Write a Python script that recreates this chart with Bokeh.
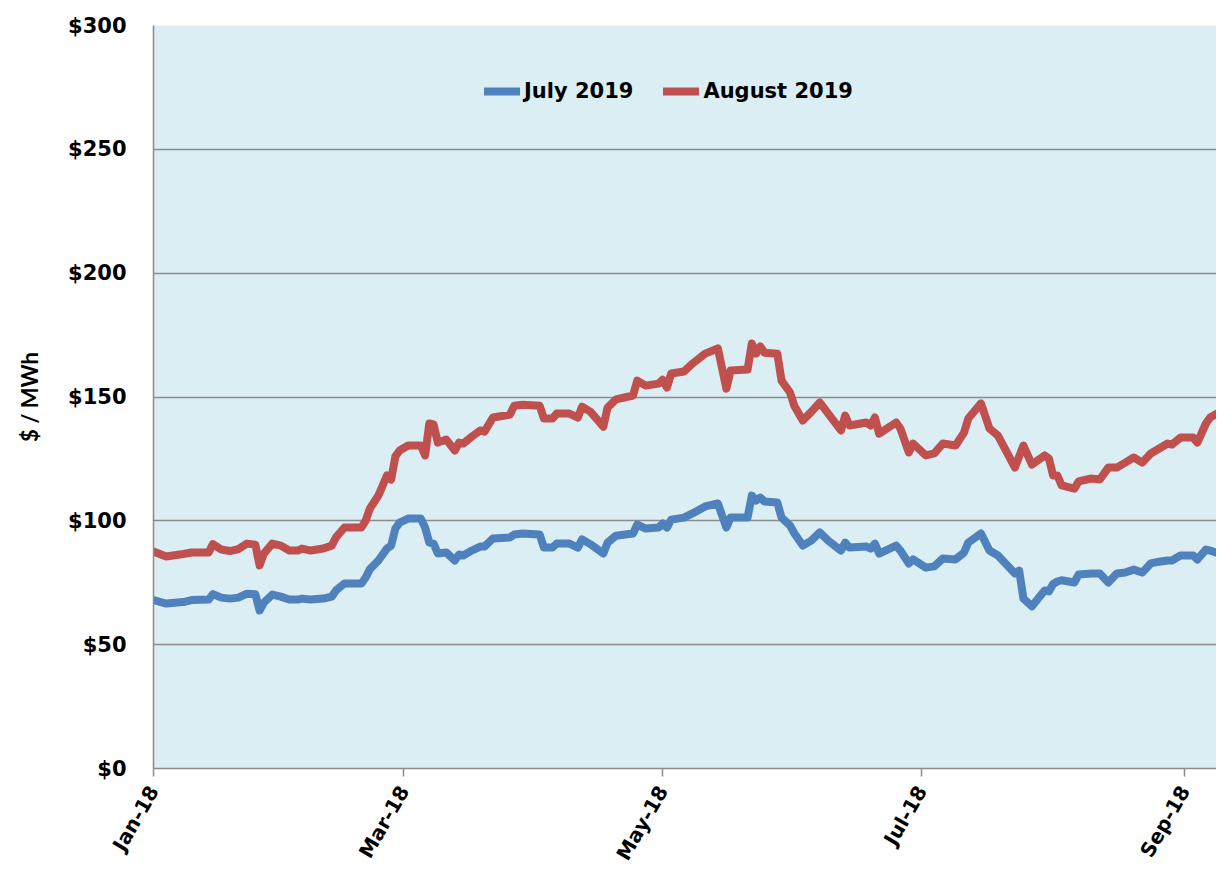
import math
import pandas as pd
from bokeh.plotting import figure
from bokeh.models import (Range1d, FixedTicker, DatetimeTickFormatter, PrintfTickFormatter,
                          Legend, LegendItem)
from bokeh.embed import file_html
from bokeh.resources import INLINE

dates = [
    "2018-01-01", "2018-01-04", "2018-01-08", "2018-01-10", "2018-01-14", "2018-01-15", "2018-01-17",
    "2018-01-19", "2018-01-21", "2018-01-23", "2018-01-25", "2018-01-26", "2018-01-27", "2018-01-29", "2018-01-31",
    "2018-02-02", "2018-02-04", "2018-02-05", "2018-02-07", "2018-02-10", "2018-02-12", "2018-02-13", "2018-02-15",
    "2018-02-19", "2018-02-20", "2018-02-21", "2018-02-23", "2018-02-25", "2018-02-26", "2018-02-27", "2018-02-28",
    "2018-03-02", "2018-03-05", "2018-03-06", "2018-03-07", "2018-03-08", "2018-03-09", "2018-03-11", "2018-03-13",
    "2018-03-14", "2018-03-15", "2018-03-17", "2018-03-19", "2018-03-20", "2018-03-22", "2018-03-26", "2018-03-27", "2018-03-29",
    "2018-04-02", "2018-04-03", "2018-04-05", "2018-04-06", "2018-04-09", "2018-04-11", "2018-04-12", "2018-04-14",
    "2018-04-17", "2018-04-18", "2018-04-20", "2018-04-24", "2018-04-25", "2018-04-27", "2018-04-30",
    "2018-05-01", "2018-05-02", "2018-05-03", "2018-05-06", "2018-05-08", "2018-05-11", "2018-05-14", "2018-05-16",
    "2018-05-17", "2018-05-21", "2018-05-22", "2018-05-23", "2018-05-24", "2018-05-25", "2018-05-28", "2018-05-29", "2018-05-31",
    "2018-06-01", "2018-06-03", "2018-06-05", "2018-06-07", "2018-06-09", "2018-06-12", "2018-06-13", "2018-06-14",
    "2018-06-18", "2018-06-19", "2018-06-20", "2018-06-21", "2018-06-25", "2018-06-26", "2018-06-28", "2018-06-29",
    "2018-07-02", "2018-07-04", "2018-07-06", "2018-07-09", "2018-07-11", "2018-07-12", "2018-07-15", "2018-07-17",
    "2018-07-19", "2018-07-23", "2018-07-24", "2018-07-25", "2018-07-27", "2018-07-30", "2018-07-31",
    "2018-08-01", "2018-08-02", "2018-08-03", "2018-08-06", "2018-08-07", "2018-08-10", "2018-08-12", "2018-08-14",
    "2018-08-16", "2018-08-18", "2018-08-20", "2018-08-22", "2018-08-24", "2018-08-26", "2018-08-28", "2018-08-29", "2018-08-31",
    "2018-09-03", "2018-09-04", "2018-09-06", "2018-09-07", "2018-09-09", "2018-09-11",
]

july_2019 = [
    68.0, 66.6, 67.2, 68.0, 68.2, 70.4, 69.0, 68.6, 69.0, 70.6, 70.4, 63.8, 67.0, 70.2, 69.4,
    68.2, 68.2, 68.6, 68.2, 68.6, 69.4, 71.9, 74.7, 74.7, 77.1, 80.5, 84.0, 88.8, 90.0, 96.9, 99.3,
    100.9, 100.9, 97.3, 91.2, 90.8, 86.8, 87.2, 84.0, 86.4, 86.0, 88.0, 89.6, 89.6, 92.9, 93.3, 94.5, 94.9,
    94.5, 89.2, 89.2, 90.8, 90.8, 89.2, 92.5, 90.5, 86.8, 91.2, 94.0, 94.9, 98.5, 96.9, 97.3,
    98.9, 97.3, 100.5, 101.3, 103.0, 105.8, 107.0, 97.3, 101.3, 101.3, 110.2, 108.2, 109.4, 107.8, 107.4, 101.3, 98.1,
    95.0, 90.0, 92.0, 95.3, 92.0, 88.0, 91.2, 89.2, 89.6, 88.8, 90.8, 86.8, 90.0, 88.0, 82.8, 84.4,
    81.1, 81.6, 84.8, 84.4, 87.2, 91.2, 94.9, 88.0, 86.0, 78.7, 79.9, 68.6, 65.5, 71.9, 71.5,
    74.5, 75.5, 76.0, 75.1, 78.3, 78.7, 78.7, 75.1, 78.7, 79.1, 80.3, 79.1, 82.8, 83.5, 84.0, 84.0, 86.0,
    86.0, 84.4, 88.4, 88.0, 86.8, 90.0,
]

august_2019 = [
    87.6, 85.6, 86.6, 87.2, 87.2, 90.6, 88.4, 87.8, 88.6, 90.8, 90.4, 82.0, 86.8, 90.8, 90.0,
    88.0, 88.0, 88.8, 88.0, 88.8, 90.0, 93.3, 97.3, 97.3, 100.1, 105.0, 110.2, 118.3, 116.7, 126.0, 128.4,
    130.4, 130.4, 126.4, 139.3, 138.9, 131.6, 132.8, 128.4, 131.6, 131.2, 134.0, 136.5, 136.0, 141.7, 142.9, 146.5, 146.9,
    146.5, 141.3, 141.3, 143.3, 143.3, 141.7, 146.1, 144.0, 138.0, 145.7, 149.0, 150.6, 156.6, 154.6, 155.4,
    157.0, 153.8, 159.5, 160.3, 163.5, 167.5, 169.6, 153.4, 160.7, 161.1, 171.6, 167.5, 170.4, 167.9, 167.5, 156.6, 151.8,
    146.5, 140.5, 144.0, 147.8, 143.3, 136.5, 142.5, 138.5, 139.7, 138.5, 141.7, 135.2, 139.7, 137.3, 127.6, 131.2,
    126.4, 127.2, 131.2, 130.4, 135.6, 141.3, 147.4, 137.3, 134.4, 121.5, 126.0, 130.4, 122.7, 126.4, 125.2,
    118.3, 118.3, 114.3, 113.0, 115.9, 117.1, 116.7, 121.5, 121.5, 123.5, 125.6, 123.5, 127.2, 129.2, 131.2, 130.8, 133.6,
    133.6, 131.6, 139.3, 141.7, 143.7, 148.0,
]

series_names = ["July 2019", "August 2019"]
series_colors = ["#4F81BD", "#C0504D"]
x_tick_dates = ["2018-01-01", "2018-03-01", "2018-05-01", "2018-07-01", "2018-09-01"]
y_ticks = [0, 50, 100, 150, 200, 250, 300]
x_start, x_end = "2018-01-01", "2018-09-08 12:00"

x = pd.to_datetime(dates)

p = figure(width=1216, height=873, x_axis_type="datetime",
           output_backend="svg", toolbar_location=None,
           x_range=Range1d(pd.Timestamp(x_start), pd.Timestamp(x_end)),
           y_range=Range1d(0, 300),
           min_border_left=153, min_border_top=25, min_border_right=0, min_border_bottom=105)

p.background_fill_color = "#DBEEF4"
p.border_fill_color = "white"
p.outline_line_color = None

r1 = p.line(x, july_2019, line_color=series_colors[0], line_width=8, line_join="round", line_cap="round")
r2 = p.line(x, august_2019, line_color=series_colors[1], line_width=8, line_join="round", line_cap="round")

# axes
tick_ms = [pd.Timestamp(d).value // 10**6 for d in x_tick_dates]
p.xaxis.ticker = FixedTicker(ticks=tick_ms)
fmt = "%b-%y"
p.xaxis.formatter = DatetimeTickFormatter(milliseconds=fmt, seconds=fmt, minsec=fmt, minutes=fmt,
                                          hourmin=fmt, hours=fmt, days=fmt, months=fmt, years=fmt)
p.xaxis.major_label_orientation = math.radians(60)
p.xaxis.major_label_text_font = "DejaVu Sans"
p.xaxis.major_label_text_font_style = "bold"
p.xaxis.major_label_text_font_size = "20px"
p.xaxis.major_label_text_color = "black"
p.xaxis.major_label_standoff = 11
p.xaxis.major_tick_out = 8
p.xaxis.major_tick_in = 0
p.xaxis.minor_tick_out = 0
p.xaxis.minor_tick_in = 0
p.xaxis.axis_line_color = "#8C8C8C"
p.xaxis.axis_line_width = 1.5
p.xaxis.major_tick_line_color = "#8C8C8C"
p.xaxis.major_tick_line_width = 1.5

p.yaxis.ticker = FixedTicker(ticks=y_ticks)
p.yaxis.formatter = PrintfTickFormatter(format="$%d")
p.yaxis.major_label_text_font = "DejaVu Sans"
p.yaxis.major_label_text_font_style = "bold"
p.yaxis.major_label_text_font_size = "21px"
p.yaxis.major_label_text_color = "black"
p.yaxis.major_label_standoff = 27
p.yaxis.major_tick_out = 0
p.yaxis.major_tick_in = 0
p.yaxis.minor_tick_out = 0
p.yaxis.minor_tick_in = 0
p.yaxis.axis_line_color = "#8C8C8C"
p.yaxis.axis_line_width = 1.5
p.yaxis.axis_label = "$ / MWh"
p.yaxis.axis_label_text_font = "Lato"
p.yaxis.axis_label_text_font_style = "bold"
p.yaxis.axis_label_text_font_size = "22px"
p.yaxis.axis_label_text_color = "black"
p.yaxis.axis_label_standoff = 22

p.xgrid.grid_line_color = None
p.ygrid.grid_line_color = "#8C8C8C"
p.ygrid.grid_line_width = 1.5

legend = Legend(items=[LegendItem(label=series_names[0], renderers=[r1]),
                       LegendItem(label=series_names[1], renderers=[r2])],
                orientation="horizontal", location=(331, 665))
legend.background_fill_alpha = 0
legend.border_line_color = None
legend.padding = 0
legend.margin = 0
legend.spacing = 30
legend.glyph_width = 36
legend.glyph_height = 24
legend.label_standoff = 4
legend.label_text_font = "DejaVu Sans"
legend.label_text_font_style = "bold"
legend.label_text_font_size = "21px"
legend.label_text_color = "black"
legend.label_height = 24
p.add_layout(legend)

open("out.html", "w").write(file_html(p, INLINE))
